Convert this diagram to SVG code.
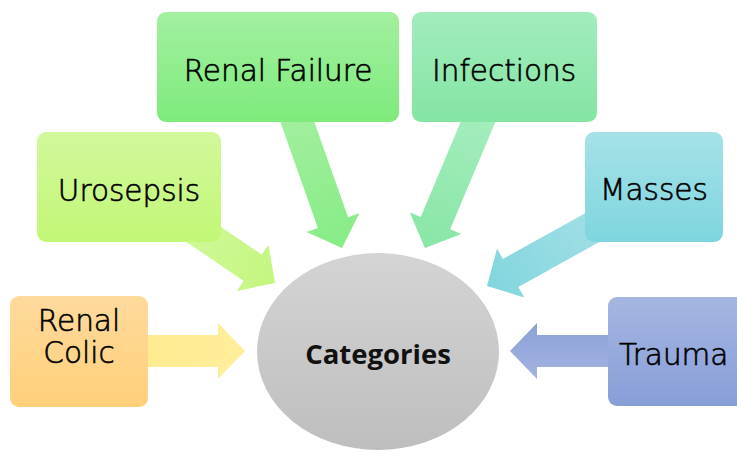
<svg xmlns="http://www.w3.org/2000/svg" width="737" height="454" viewBox="0 0 737 454">
<defs>
<linearGradient id="gColic" x1="0" y1="0" x2="0" y2="1"><stop offset="0" stop-color="#FFDA9C"/><stop offset="1" stop-color="#FFD07A"/></linearGradient>
<linearGradient id="gUro" x1="0" y1="0" x2="0" y2="1"><stop offset="0" stop-color="#D2F89C"/><stop offset="1" stop-color="#C2F776"/></linearGradient>
<linearGradient id="gFail" x1="0" y1="0" x2="0" y2="1"><stop offset="0" stop-color="#A2F0A0"/><stop offset="1" stop-color="#7EEB7C"/></linearGradient>
<linearGradient id="gInf" x1="0" y1="0" x2="0" y2="1"><stop offset="0" stop-color="#A2ECBC"/><stop offset="1" stop-color="#84E5A4"/></linearGradient>
<linearGradient id="gMass" x1="0" y1="0" x2="0" y2="1"><stop offset="0" stop-color="#A6E2E8"/><stop offset="1" stop-color="#7ED5DE"/></linearGradient>
<linearGradient id="gTrauma" x1="0" y1="0" x2="0" y2="1"><stop offset="0" stop-color="#A6B6E2"/><stop offset="1" stop-color="#889ED8"/></linearGradient>
<linearGradient id="gCat" x1="0" y1="0" x2="0" y2="1"><stop offset="0" stop-color="#D4D4D4"/><stop offset="1" stop-color="#BEBEBE"/></linearGradient>
<linearGradient id="aColic" x1="0" y1="0" x2="1" y2="0"><stop offset="0" stop-color="#FFEA8A"/><stop offset="1" stop-color="#FFEE9C"/></linearGradient>
<linearGradient id="aUro" x1="0" y1="0" x2="1" y2="0"><stop offset="0" stop-color="#D6F9A6"/><stop offset="1" stop-color="#C4F67E"/></linearGradient>
<linearGradient id="aFail" x1="0" y1="0" x2="1" y2="0"><stop offset="0" stop-color="#A4EFA0"/><stop offset="1" stop-color="#86EC86"/></linearGradient>
<linearGradient id="aInf" x1="0" y1="0" x2="1" y2="0"><stop offset="0" stop-color="#A6EDBE"/><stop offset="1" stop-color="#88E6A6"/></linearGradient>
<linearGradient id="aMass" x1="0" y1="0" x2="1" y2="0"><stop offset="0" stop-color="#A6E0E6"/><stop offset="1" stop-color="#82D6DE"/></linearGradient>
<linearGradient id="aTrauma" x1="0" y1="0" x2="0" y2="1"><stop offset="0" stop-color="#A4B4E0"/><stop offset="1" stop-color="#8CA0D8"/></linearGradient>
<path id="arrow" d="M -150 -16 L -27 -16 L -27 -28 L 0 0 L -27 28 L -27 16 L -150 16 Z"/>
</defs>
<style>
.lbl{font-family:"DejaVu Sans","Liberation Sans",sans-serif;font-size:29.5px;font-weight:200;fill:#000;stroke:#000;stroke-width:0.6px;text-anchor:middle}
.cat{font-family:"Open Sans","DejaVu Sans",sans-serif;font-size:27.5px;font-weight:bold;fill:#111;text-anchor:middle}
</style>
<g id="connectors">
<use href="#arrow" fill="url(#aColic)" transform="translate(245,351)"/>
<use href="#arrow" fill="url(#aUro)" transform="translate(275,283) rotate(34.3)"/>
<use href="#arrow" fill="url(#aFail)" transform="translate(342,248) rotate(70.5)"/>
<use href="#arrow" fill="url(#aInf)" transform="translate(425,248) rotate(112.8)"/>
<use href="#arrow" fill="url(#aMass)" transform="translate(487,286) rotate(151)"/>
<use href="#arrow" fill="url(#aTrauma)" transform="translate(510,351) rotate(180)"/>
</g>
<g id="categories">
<ellipse cx="378" cy="351.5" rx="121" ry="98.5" fill="url(#gCat)"/>
<text class="cat" x="378" y="364">Categories</text>
</g>
<g id="renal-colic">
<rect x="10" y="296" width="138" height="111" rx="9" fill="url(#gColic)"/>
<text class="lbl" x="79" y="331">Renal</text>
<text class="lbl" x="79" y="363">Colic</text>
</g>
<g id="urosepsis">
<rect x="37" y="132" width="184" height="110" rx="9" fill="url(#gUro)"/>
<text class="lbl" x="129" y="201">Urosepsis</text>
</g>
<g id="renal-failure">
<rect x="157" y="12" width="242" height="110" rx="9" fill="url(#gFail)"/>
<text class="lbl" x="278" y="81">Renal Failure</text>
</g>
<g id="infections">
<rect x="412" y="12" width="185" height="110" rx="9" fill="url(#gInf)"/>
<text class="lbl" x="504" y="81">Infections</text>
</g>
<g id="masses">
<rect x="585" y="132" width="138" height="110" rx="9" fill="url(#gMass)"/>
<text class="lbl" x="654" y="200">Masses</text>
</g>
<g id="trauma">
<rect x="608" y="297" width="160" height="109" rx="9" fill="url(#gTrauma)"/>
<text class="lbl" x="619" y="365" style="text-anchor:start">Trauma</text>
</g>
</svg>
